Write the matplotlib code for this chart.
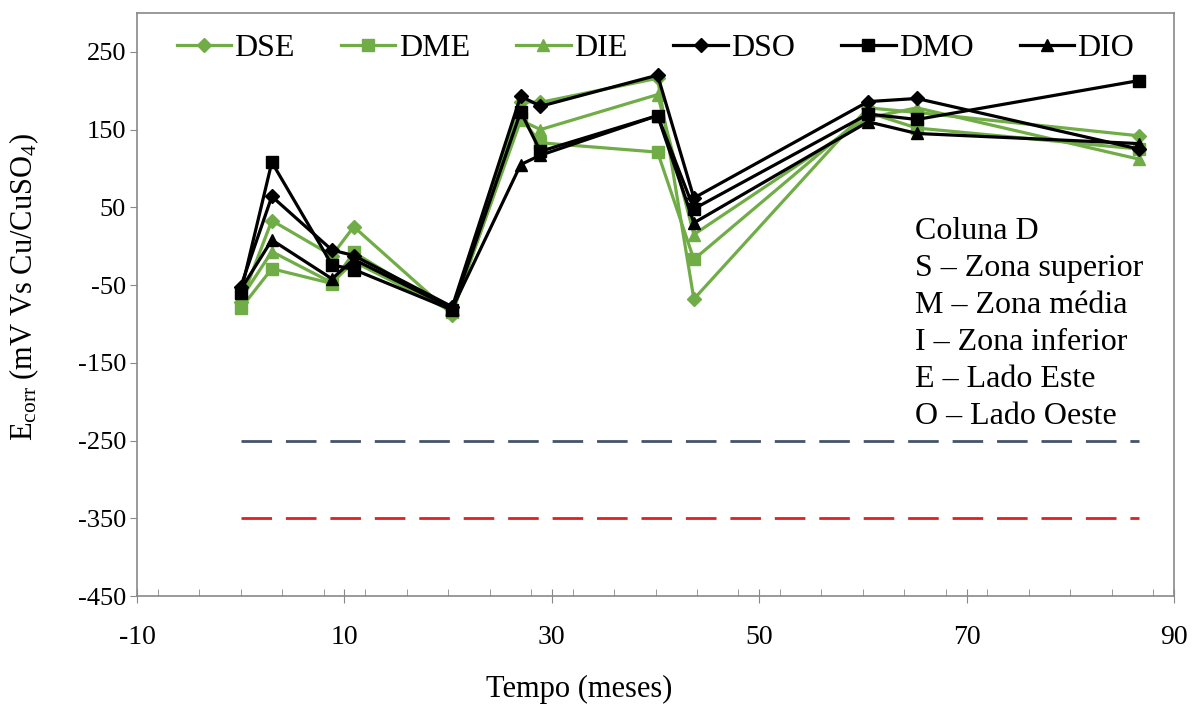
import numpy as np
import matplotlib
matplotlib.use("Agg")
import matplotlib.pyplot as plt
from matplotlib.ticker import MultipleLocator

plt.rcParams['font.family'] = ['Liberation Serif', 'DejaVu Serif']
plt.rcParams['mathtext.fontset'] = 'custom'
plt.rcParams['mathtext.rm'] = 'Liberation Serif'
plt.rcParams['mathtext.it'] = 'Liberation Serif:italic'
plt.rcParams['axes.unicode_minus'] = False

# tempo (meses)
tempo = [0, 3, 8.8, 10.9, 20.4, 27, 28.9, 40.2, 43.7, 60.5, 65.2, 86.6]

# Ecorr (mV Vs Cu/CuSO4)
dse = [-72, 33, -12, 25, -88, 186, 185, 216, -68, 178, 172, 142]
dme = [-80, -29, -48, -8, -85, 165, 133, 121, -17, 172, 152, 125]
die = [-68, -7, -47, -20, -84, 162, 150, 195, 15, 165, 178, 112]
dso = [-52, 64, -5, -12, -78, 193, 180, 220, 62, 186, 190, 125]
dmo = [-60, 108, -24, -30, -82, 173, 122, 168, 48, 170, 163, 213]
dio = [-56, 8, -42, -17, -80, 105, 117, 168, 30, 160, 145, 132]

limite_1 = [-250] * len(tempo)
limite_2 = [-350] * len(tempo)

series = [("DSE", dse, "#70AD47", "D", 7),
          ("DME", dme, "#70AD47", "s", 8),
          ("DIE", die, "#70AD47", "^", 8),
          ("DSO", dso, "black", "D", 7),
          ("DMO", dmo, "black", "s", 8),
          ("DIO", dio, "black", "^", 8)]

fig = plt.figure(figsize=(12.03, 7.05), dpi=100)
ax = fig.add_axes([0.1139, 0.1546, 0.862, 0.827])

for nome, vals, cor, mk, ms in series:
    ax.plot(tempo, vals, color=cor, marker=mk, markersize=ms, linewidth=2.3, label=nome)

ax.plot(tempo, limite_1, color="#44546A", linewidth=2, dashes=(11, 5))
ax.plot(tempo, limite_2, color="#E02020", linewidth=2, dashes=(11, 5))

ax.set_xlim(-10, 90)
ax.set_ylim(-450, 300)
ax.set_xticks(np.arange(-10, 91, 20))
ax.set_yticks(np.arange(-450, 251, 100))
ax.xaxis.set_minor_locator(MultipleLocator(4))
ax.tick_params(axis='x', which='major', direction='inout', length=10, color='#898989',
               labelsize=20, pad=16)
ax.tick_params(axis='x', which='minor', direction='in', length=5, color='#898989')
ax.tick_params(axis='y', which='major', direction='out', length=5, color='#898989',
               labelsize=19, pad=3)
for s in ax.spines.values():
    s.set_color('#898989')
    s.set_linewidth(1.2)

ax.set_xlabel("Tempo (meses)", fontsize=22)
ax.xaxis.set_label_coords(0.426, -0.135)
ax.set_ylabel(r"$\mathrm{E_{corr}}$ (mV Vs Cu/CuSO$_4$)", fontsize=22)
ax.yaxis.set_label_coords(-0.093, 0.53)

ax.legend(loc='upper center', bbox_to_anchor=(0.5, 1.0), ncol=6, frameon=False,
          fontsize=23, handlelength=1.7, handletextpad=0.1, columnspacing=1.45,
          borderaxespad=0.25)

notas = ["Coluna D", "S – Zona superior", "M – Zona média", "I – Zona inferior",
         "E – Lado Este", "O – Lado Oeste"]
for i, txt in enumerate(notas):
    ax.text(0.75, 0.626 - i * 0.0636, txt, transform=ax.transAxes, fontsize=23,
            va='center', ha='left')

fig.savefig("out.png", dpi=100)
